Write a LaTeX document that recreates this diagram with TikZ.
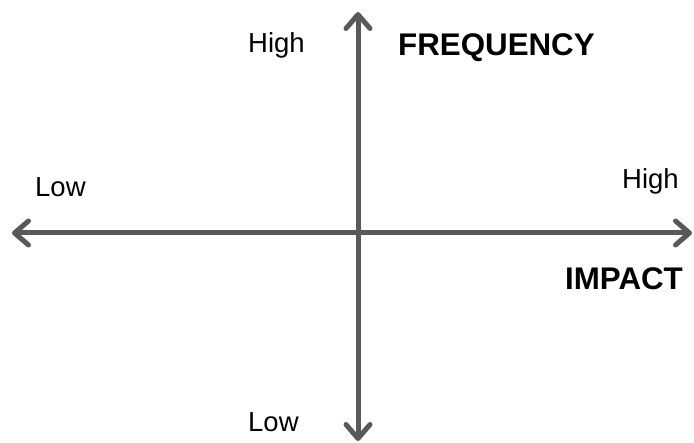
\documentclass[tikz,border=0pt]{standalone}
\usepackage{fontspec}
\setmainfont{Liberation Sans}
\usetikzlibrary{arrows.meta}
\definecolor{axisgray}{HTML}{595959}
\tikzset{
  axisline/.style={draw=axisgray, line width=5pt,
    {Straight Barb[length=14pt,width=24pt,line cap=round,round]}-{Straight Barb[length=14pt,width=24pt,line cap=round,round]}},
  lbl/.style={anchor=base west, inner sep=0pt, font=\fontsize{27.5}{30}\selectfont},
  ttl/.style={anchor=base west, inner sep=0pt, font=\fontsize{31.3}{34}\selectfont\bfseries}
}
\begin{document}
\begin{tikzpicture}[x=1pt,y=-1pt]
\useasboundingbox (0,0) rectangle (694,443);
\coordinate (L) at (12,233);
\coordinate (R) at (692,233);
\coordinate (T) at (358,12);
\coordinate (B) at (358,441);
\draw[axisline] (L) -- (R);
\draw[axisline] (B) -- (T);
\node[lbl] (hightop) at (248,53) {High};
\node[ttl] (freq) at (398,56) {FREQUENCY};
\node[lbl] (lowleft) at (35,197) {Low};
\node[lbl] (highright) at (622,189) {High};
\node[ttl] (impact) at (565,290) {IMPACT};
\node[lbl] (lowbottom) at (248,432) {Low};
\end{tikzpicture}
\end{document}
